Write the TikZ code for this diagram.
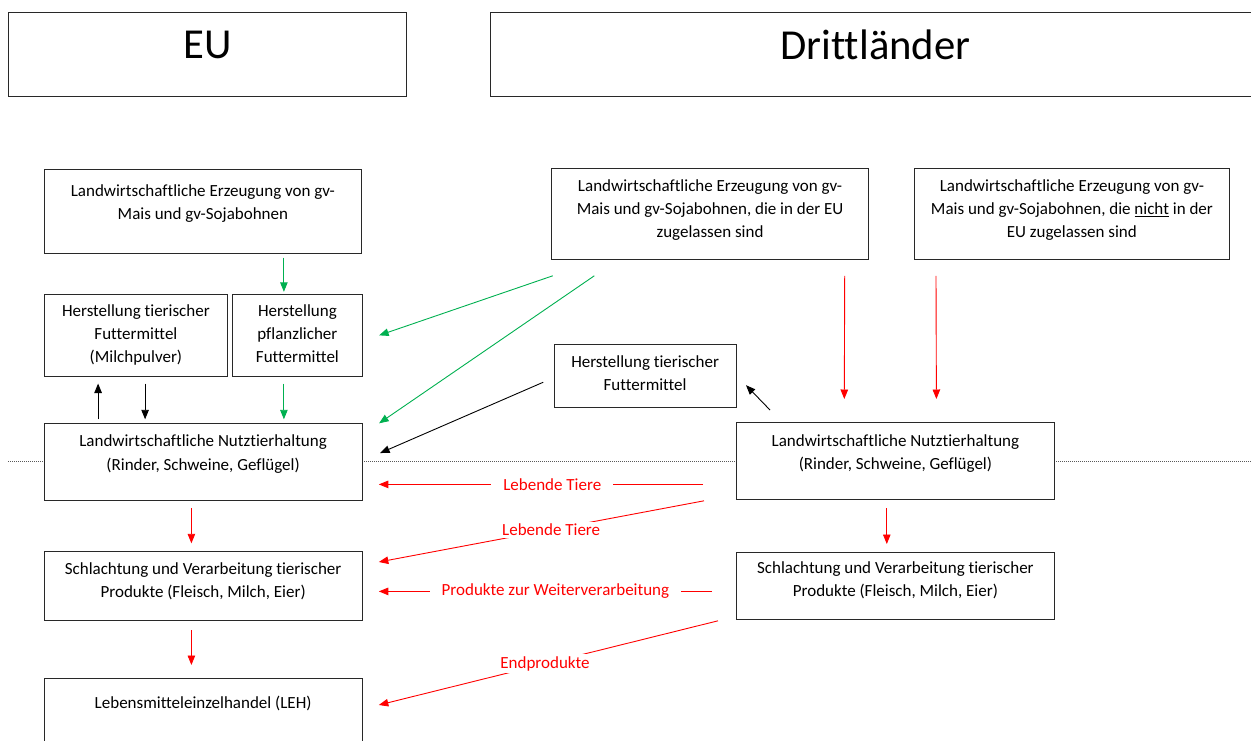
\documentclass[tikz,border=0pt]{standalone}
\usepackage{fontspec}
\setmainfont{Carlito}[Ligatures=CommonOff]
\usetikzlibrary{positioning,arrows.meta}
\definecolor{wordgreen}{RGB}{0,176,80}
\definecolor{boxline}{RGB}{40,40,40}

\begin{document}
\begin{tikzpicture}[x=1pt, y=-1pt,
    box/.style={draw=boxline, line width=0.8pt, fill=white, anchor=north west, inner sep=0pt},
    txt/.style={font=\fontsize{17}{23.3}\selectfont, align=center, inner sep=0pt},
    head/.style={font=\fontsize{42.7}{50}\selectfont, inner sep=0pt},
    pfeil/.style={line width=0.9pt, -{Triangle[length=9.5pt,width=7.5pt]}},
    gruen/.style={pfeil, draw=wordgreen},
    rot/.style={pfeil, draw=red},
    schwarz/.style={pfeil, draw=black},
    lbl/.style={font=\fontsize{17}{20}\selectfont, text=red, fill=white, inner xsep=12pt, inner ysep=2pt}]
    \useasboundingbox (0,0) rectangle (1251,740);

    % Grenzlinie EU / Drittlaender
    \draw[black!65, line width=1pt, dash pattern=on 1pt off 1pt] (8,461) -- (1251,461);

    % Kopfzeile
    \node[box, minimum width=398pt, minimum height=84pt] (eu) at (8,12) {};
    \node[head, below=19pt of eu.north] (eutxt) {EU};
    \node[box, minimum width=770pt, minimum height=84pt] (dl) at (490,12) {};
    \node[head, below=18pt of dl.north] (dltxt) {Drittländer};

    % EU
    \node[box, minimum width=316.4pt, minimum height=83.7pt] (erzEU) at (44.3,169) {};
    \node[txt, below=15pt of erzEU.north] (erzEUtxt) {Landwirtschaftliche Erzeugung von gv-\\Mais und gv-Sojabohnen};
    \node[box, minimum width=182.4pt, minimum height=81.7pt] (tierEU) at (44.3,294.3) {};
    \node[txt, below=10pt of tierEU.north] (tierEUtxt) {Herstellung tierischer\\Futtermittel\\(Milchpulver)};
    \node[box, minimum width=129.4pt, minimum height=81.7pt] (pflEU) at (232.3,294.3) {};
    \node[txt, below=10pt of pflEU.north] (pflEUtxt) {Herstellung\\pflanzlicher\\Futtermittel};
    \node[box, minimum width=318pt, minimum height=76.7pt] (haltEU) at (43.7,423.3) {};
    \node[txt, below=11.5pt of haltEU.north] (haltEUtxt) {Landwirtschaftliche Nutztierhaltung\\(Rinder, Schweine, Geflügel)};
    \node[box, minimum width=317.5pt, minimum height=69.3pt] (schlEU) at (44,551) {};
    \node[txt, below=11.5pt of schlEU.north] (schlEUtxt) {Schlachtung und Verarbeitung tierischer\\Produkte (Fleisch, Milch, Eier)};
    \node[box, minimum width=317.5pt, minimum height=100pt] (lehEU) at (44,678.3) {};
    \node[txt, below=17.5pt of lehEU.north] (lehEUtxt) {Lebensmitteleinzelhandel (LEH)};

    % Drittlaender
    \node[box, minimum width=316.7pt, minimum height=91pt] (erzDL) at (551.3,168.3) {};
    \node[txt, below=11pt of erzDL.north] (erzDLtxt) {Landwirtschaftliche Erzeugung von gv-\\Mais und gv-Sojabohnen, die in der EU\\zugelassen sind};
    \node[box, minimum width=315.6pt, minimum height=91pt] (erzNicht) at (913.7,168.3) {};
    \node[txt, below=11pt of erzNicht.north] (erzNichttxt) {Landwirtschaftliche Erzeugung von gv-\\Mais und gv-Sojabohnen, die \underline{nicht} in der\\EU zugelassen sind};
    \node[box, minimum width=182pt, minimum height=62.4pt] (tierDL) at (553.7,344.3) {};
    \node[txt, below=11pt of tierDL.north] (tierDLtxt) {Herstellung tierischer\\Futtermittel};
    \node[box, minimum width=318pt, minimum height=76.7pt] (haltDL) at (736,422.3) {};
    \node[txt, below=12pt of haltDL.north] (haltDLtxt) {Landwirtschaftliche Nutztierhaltung\\(Rinder, Schweine, Geflügel)};
    \node[box, minimum width=318pt, minimum height=67.6pt] (schlDL) at (736,551.7) {};
    \node[txt, below=9.5pt of schlDL.north] (schlDLtxt) {Schlachtung und Verarbeitung tierischer\\Produkte (Fleisch, Milch, Eier)};

    % Pfeile EU
    \draw[gruen] ([shift={(81,4)}]erzEU.south) -- ([shift={(-13.5,-2.5)}]pflEU.north);
    \draw[gruen] ([shift={(-13.5,6.7)}]pflEU.south) -- ([shift={(80.8,-4)}]haltEU.north);
    \draw[schwarz] ([shift={(-105,-4)}]haltEU.north) -- ([shift={(-37.8,6.7)}]tierEU.south);
    \draw[schwarz] ([shift={(9.2,6.7)}]tierEU.south) -- ([shift={(-58,-4)}]haltEU.north);
    \draw[rot] ([shift={(-11.7,7.3)}]haltEU.south) -- ([shift={(-11.75,-7.7)}]schlEU.north);
    \draw[rot] ([shift={(-11.75,9)}]schlEU.south) -- ([shift={(-11.75,-13.3)}]lehEU.north);

    % Pfeile Drittlaender -> EU
    \draw[gruen] ([shift={(1.4,15.7)}]erzDL.south west) -- ([shift={(16.6,-0.2)}]pflEU.east);
    \draw[gruen] ([shift={(43,15.7)}]erzDL.south west) -- ([shift={(16.6,0)}]haltEU.north east);
    \draw[schwarz] ([shift={(-10.4,6.3)}]tierDL.west) -- ([shift={(17.6,-9)}]haltEU.east);
    \draw[schwarz] ([shift={(34,-12.3)}]haltDL.north west) -- ([shift={(9.5,9.3)}]tierDL.east);
    \draw[rot] ([shift={(-24.1,15.7)}]erzDL.south east) -- ([shift={(-51.1,-23.3)}]haltDL.north);
    \draw[rot] ([shift={(22.3,15.7)}]erzNicht.south west) -- ([shift={(41,-23.3)}]haltDL.north);
    \draw[rot] ([shift={(-8.6,8.3)}]haltDL.south) -- ([shift={(-8.6,-7.7)}]schlDL.north);

    % Warenstroeme
    \draw[rot] ([shift={(-33,23.35)}]haltDL.west) -- node[lbl, pos=0.465] (lt1) {Lebende Tiere} ([shift={(16.3,22.35)}]haltEU.east);
    \draw[rot] ([shift={(-32,1)}]haltDL.south west) -- node[lbl, pos=0.47] (lt2) {Lebende Tiere} ([shift={(16.5,11)}]schlEU.north east);
    \draw[rot] ([shift={(-24,5.5)}]schlDL.west) -- node[lbl, pos=0.47] (pw) {Produkte zur Weiterverarbeitung} ([shift={(16.5,5.35)}]schlEU.east);
    \draw[rot] ([shift={(-18,0.7)}]schlDL.south west) -- node[lbl, pos=0.51] (ep) {Endprodukte} ([shift={(16.5,26.7)}]lehEU.north east);
\end{tikzpicture}
\end{document}
